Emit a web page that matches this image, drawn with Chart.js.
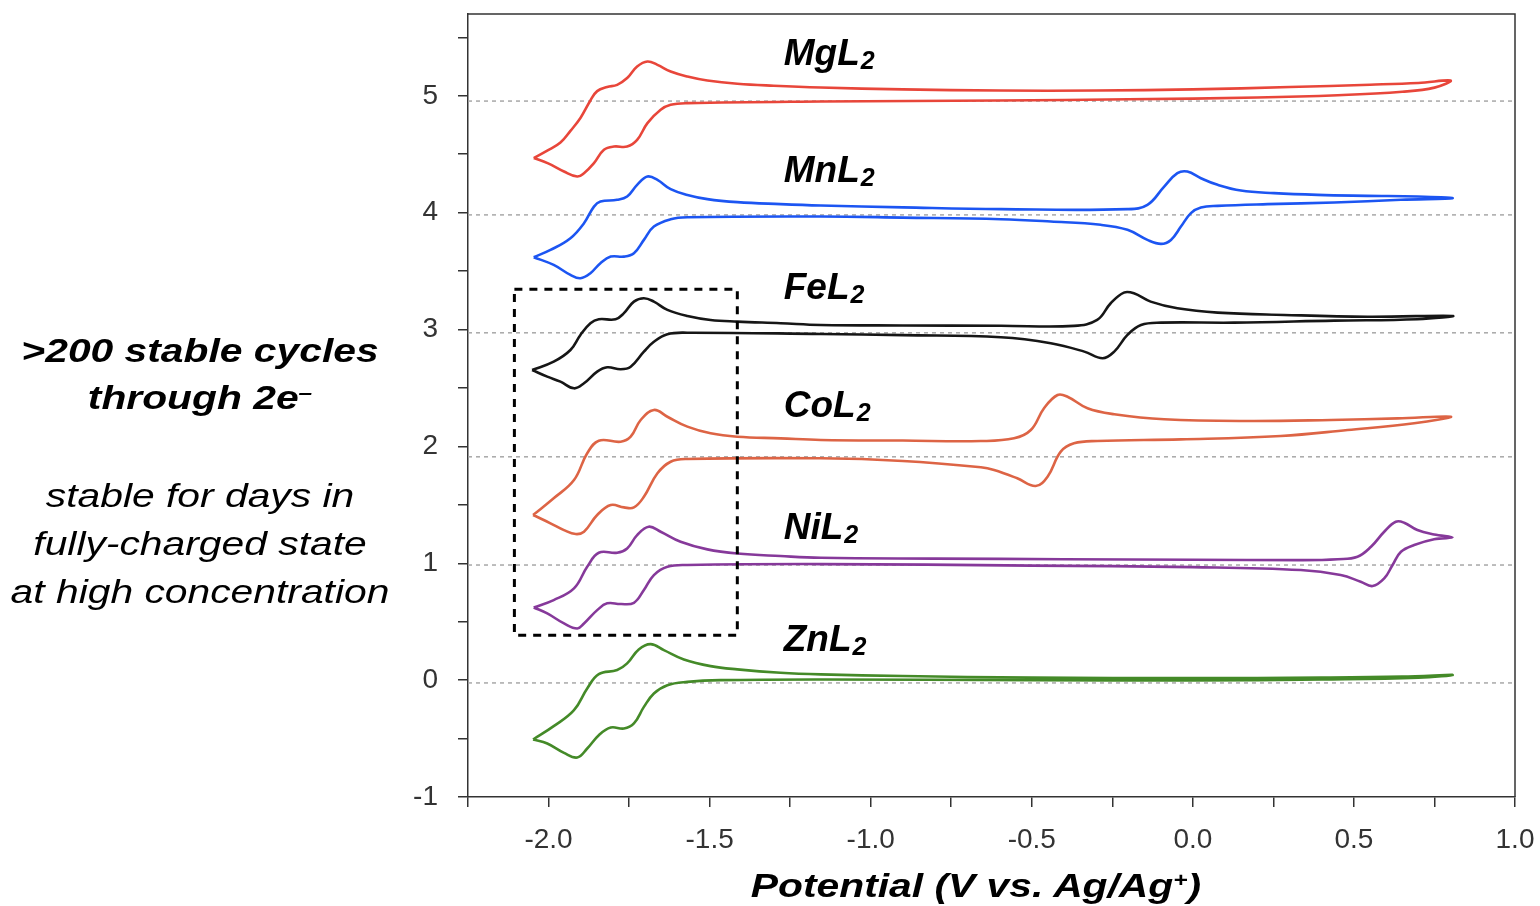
<!DOCTYPE html>
<html>
<head>
<meta charset="utf-8">
<script src="https://cdn.jsdelivr.net/npm/chart.js@4.4.0/dist/chart.umd.min.js"></script>
<style>
  html, body { margin: 0; padding: 0; background: #fff; }
  #wrap { position: relative; width: 1540px; height: 906px; overflow: hidden; }
  #cv { position: absolute; left: 0; top: 0; }
  .note {
    position: absolute; white-space: nowrap; color: #000;
    font-family: "Liberation Sans", Arial, sans-serif; font-style: italic;
    font-size: 34px; line-height: 34px;
    transform: translateX(-50%) scaleX(1.2);
  }
  .note.bold { font-weight: bold; }
  .note sup { font-size: 0.6em; vertical-align: 0.5em; line-height: 0; }
</style>
</head>
<body>
<div id="wrap">
  <canvas id="cv" width="1540" height="906"></canvas>
  <div class="note bold" style="left:200px; top:333px;">&gt;200 stable cycles</div>
  <div class="note bold" style="left:200px; top:380px;">through 2e<sup>–</sup></div>
  <div class="note" style="left:200px; top:478px;">stable for days in</div>
  <div class="note" style="left:200px; top:526px;">fully-charged state</div>
  <div class="note" style="left:200px; top:574px;">at high concentration</div>
  <div class="note bold" style="left:976px; top:868px;">Potential (V vs. Ag/Ag<sup>+</sup>)</div>
</div>
<script>
// axis limits (V, current offset units)
const potentialRange = [-2.25, 1.0];
const currentRange = [-1, 5.7];

const complexes = ['MgL', 'MnL', 'FeL', 'CoL', 'NiL', 'ZnL'];
const curveColors = ['#e8463a', '#1c55f2', '#161616', '#dd6445', '#86399a', '#448a28'];
// label baselines
const labelLevels = [5.265, 4.264, 3.262, 2.252, 1.207, 0.248];
const labelPotential = -1.27;
// dotted zero lines of each offset trace
const baselineLevels = [4.955, 3.981, 2.972, 1.911, 0.985, -0.024];

// CV loops: [potential, current]
const mgL2 = [[-2.046,4.467],[-2.004,4.53],[-1.963,4.60],[-1.932,4.70],[-1.901,4.81],[-1.870,4.96],[-1.849,5.04],[-1.818,5.075],[-1.787,5.094],[-1.756,5.152],[-1.725,5.251],[-1.693,5.294],[-1.662,5.265],[-1.621,5.208],[-1.569,5.165],[-1.507,5.131],[-1.414,5.103],[-1.301,5.086],[-1.155,5.071],[-0.9,5.055],[-0.6,5.045],[-0.3,5.045],[0.0,5.055],[0.3,5.075],[0.55,5.095],[0.7,5.11],[0.80,5.13],
  [0.75,5.07],[0.65,5.035],[0.45,5.005],[0.2,4.985],[-0.2,4.97],[-0.6,4.96],[-1.155,4.951],[-1.569,4.937],[-1.621,4.923],[-1.652,4.880],[-1.693,4.766],[-1.725,4.623],[-1.756,4.566],[-1.797,4.566],[-1.828,4.538],[-1.859,4.424],[-1.890,4.338],[-1.911,4.309],[-1.952,4.352],[-2.003,4.424],[-2.046,4.467]];
const mnL2 = [[-2.046,3.619],[-1.994,3.681],[-1.932,3.782],[-1.890,3.910],[-1.859,4.052],[-1.839,4.095],[-1.787,4.110],[-1.756,4.138],[-1.725,4.238],[-1.693,4.309],[-1.662,4.281],[-1.621,4.201],[-1.569,4.152],[-1.507,4.116],[-1.414,4.090],[-1.280,4.073],[-1.155,4.061],[-0.9,4.045],[-0.596,4.030],[-0.203,4.030],[-0.141,4.067],[-0.089,4.223],[-0.048,4.338],[-0.017,4.352],[0.025,4.295],[0.077,4.238],[0.149,4.189],[0.252,4.167],[0.387,4.152],[0.542,4.144],[0.697,4.138],[0.806,4.124],
  [0.646,4.110],[0.439,4.087],[0.232,4.073],[0.077,4.058],[0.025,4.044],[-0.006,3.996],[-0.037,3.881],[-0.068,3.767],[-0.099,3.733],[-0.141,3.767],[-0.203,3.853],[-0.286,3.896],[-0.441,3.924],[-0.596,3.944],[-0.9,3.958],[-1.155,3.967],[-1.569,3.961],[-1.621,3.944],[-1.673,3.881],[-1.704,3.767],[-1.735,3.653],[-1.766,3.624],[-1.807,3.624],[-1.839,3.568],[-1.870,3.482],[-1.901,3.439],[-1.932,3.467],[-1.984,3.553],[-2.046,3.619]];
const feL2 = [[-2.051,2.654],[-1.984,2.725],[-1.932,2.825],[-1.901,2.954],[-1.870,3.054],[-1.844,3.088],[-1.792,3.088],[-1.766,3.140],[-1.735,3.239],[-1.704,3.268],[-1.673,3.239],[-1.631,3.168],[-1.569,3.116],[-1.497,3.082],[-1.414,3.068],[-1.280,3.054],[-1.155,3.039],[-0.9,3.035],[-0.596,3.033],[-0.369,3.031],[-0.297,3.082],[-0.255,3.225],[-0.214,3.316],[-0.183,3.310],[-0.131,3.239],[-0.048,3.182],[0.077,3.145],[0.284,3.125],[0.542,3.110],[0.806,3.116],
  [0.697,3.088],[0.439,3.076],[0.128,3.059],[-0.099,3.059],[-0.161,3.039],[-0.203,2.954],[-0.244,2.811],[-0.280,2.754],[-0.337,2.811],[-0.441,2.883],[-0.596,2.934],[-0.9,2.952],[-1.155,2.962],[-1.569,2.973],[-1.631,2.960],[-1.673,2.896],[-1.704,2.811],[-1.745,2.682],[-1.776,2.660],[-1.818,2.677],[-1.849,2.640],[-1.890,2.540],[-1.921,2.497],[-1.963,2.554],[-2.004,2.597],[-2.051,2.654]];
const coL2 = [[-2.048,1.413],[-1.984,1.556],[-1.921,1.712],[-1.880,1.941],[-1.844,2.049],[-1.776,2.040],[-1.745,2.083],[-1.714,2.226],[-1.673,2.312],[-1.631,2.254],[-1.569,2.169],[-1.497,2.112],[-1.414,2.083],[-1.280,2.069],[-1.155,2.055],[-0.9,2.05],[-0.658,2.046],[-0.555,2.069],[-0.503,2.140],[-0.462,2.326],[-0.420,2.440],[-0.389,2.425],[-0.327,2.326],[-0.244,2.275],[-0.089,2.232],[0.170,2.217],[0.429,2.226],[0.636,2.240],[0.801,2.254],
  [0.687,2.198],[0.480,2.140],[0.273,2.089],[-0.037,2.060],[-0.297,2.046],[-0.369,2.026],[-0.410,1.955],[-0.451,1.741],[-0.488,1.661],[-0.545,1.727],[-0.617,1.798],[-0.658,1.821],[-0.9,1.875],[-1.155,1.898],[-1.569,1.892],[-1.621,1.869],[-1.662,1.770],[-1.704,1.569],[-1.735,1.478],[-1.766,1.478],[-1.807,1.498],[-1.849,1.413],[-1.890,1.270],[-1.916,1.250],[-1.952,1.284],[-1.994,1.342],[-2.048,1.413]];
const niL2 = [[-2.046,0.622],[-1.984,0.685],[-1.921,0.785],[-1.880,0.970],[-1.844,1.090],[-1.787,1.090],[-1.756,1.127],[-1.725,1.241],[-1.689,1.313],[-1.652,1.270],[-1.590,1.184],[-1.507,1.119],[-1.414,1.084],[-1.280,1.062],[-1.155,1.047],[-0.8,1.04],[-0.4,1.035],[0.0,1.03],[0.335,1.027],[0.45,1.035],[0.511,1.056],[0.553,1.141],[0.594,1.270],[0.630,1.355],[0.656,1.347],[0.697,1.284],[0.749,1.247],[0.806,1.222],
  [0.749,1.205],[0.687,1.156],[0.646,1.098],[0.620,0.985],[0.594,0.870],[0.558,0.805],[0.521,0.842],[0.459,0.899],[0.335,0.942],[0.0,0.967],[-0.5,0.98],[-1.155,0.993],[-1.569,0.985],[-1.631,0.970],[-1.673,0.899],[-1.704,0.771],[-1.735,0.662],[-1.776,0.651],[-1.818,0.657],[-1.849,0.599],[-1.890,0.485],[-1.911,0.442],[-1.952,0.485],[-2.004,0.571],[-2.046,0.622]];
const znL2 = [[-2.048,-0.508],[-1.984,-0.394],[-1.921,-0.257],[-1.880,-0.071],[-1.844,0.051],[-1.787,0.086],[-1.756,0.143],[-1.720,0.263],[-1.683,0.308],[-1.642,0.257],[-1.580,0.177],[-1.497,0.120],[-1.414,0.092],[-1.280,0.063],[-1.155,0.049],[-0.9,0.035],[-0.5,0.022],[0.0,0.018],[0.4,0.022],[0.65,0.03],[0.806,0.045],
  [0.7,0.02],[0.4,0.005],[0.0,-0.003],[-0.5,0.0],[-1.155,0.006],[-1.466,0.0],[-1.569,-0.015],[-1.631,-0.043],[-1.673,-0.114],[-1.704,-0.229],[-1.735,-0.371],[-1.766,-0.414],[-1.807,-0.405],[-1.844,-0.471],[-1.880,-0.585],[-1.911,-0.662],[-1.952,-0.622],[-2.004,-0.542],[-2.048,-0.508]];
const loops = [mgL2, mnL2, feL2, coL2, niL2, znL2];

// dashed box round the 2e- waves
const boxPotential = [-2.106, -1.414];
const boxCurrent = [0.385, 3.345];

const toXY = arr => arr.map(p => ({ x: p[0], y: p[1] }));

const datasets = [];
loops.forEach((loop, i) => {
  datasets.push({
    label: complexes[i] + '2',
    data: toXY(loop),
    showLine: true,
    borderColor: curveColors[i],
    borderWidth: 2.6,
    pointRadius: 0,
    tension: 0.4,
    fill: false,
    order: 1
  });
});
baselineLevels.forEach(lv => {
  datasets.push({
    label: 'base',
    data: [{ x: potentialRange[0], y: lv }, { x: potentialRange[1], y: lv }],
    showLine: true,
    borderColor: '#a8a8a8',
    borderWidth: 1.5,
    borderDash: [4, 4],
    pointRadius: 0,
    order: 5
  });
});
datasets.push({
  label: 'box',
  data: [
    { x: boxPotential[0], y: boxCurrent[1] }, { x: boxPotential[1], y: boxCurrent[1] },
    { x: boxPotential[1], y: boxCurrent[0] }, { x: boxPotential[0], y: boxCurrent[0] },
    { x: boxPotential[0], y: boxCurrent[1] }
  ],
  showLine: true,
  borderColor: '#000',
  borderWidth: 3,
  borderDash: [8, 7],
  pointRadius: 0,
  tension: 0,
  order: 0
});

// frame on top/right + compound labels
const framePlugin = {
  id: 'frame',
  afterDraw(chart) {
    const { ctx, chartArea: a, scales } = chart;
    ctx.save();
    ctx.strokeStyle = '#333';
    ctx.lineWidth = 1.5;
    ctx.beginPath();
    ctx.moveTo(a.left, a.top);
    ctx.lineTo(a.right, a.top);
    ctx.lineTo(a.right, a.bottom);
    ctx.stroke();

    ctx.fillStyle = '#000';
    ctx.textBaseline = 'alphabetic';
    complexes.forEach((name, i) => {
      const x = scales.x.getPixelForValue(labelPotential);
      const y = scales.y.getPixelForValue(labelLevels[i]);
      ctx.font = 'italic bold 37px "Liberation Sans", Arial, sans-serif';
      ctx.fillText(name, x, y);
      const w = ctx.measureText(name).width;
      ctx.font = 'italic bold 25px "Liberation Sans", Arial, sans-serif';
      ctx.fillText('2', x + w + 1, y + 4);
    });
    ctx.restore();
  }
};

const isHalf = v => Math.abs(v * 2 - Math.round(v * 2)) < 1e-6;
const isWhole = v => Math.abs(v - Math.round(v)) < 1e-6;

new Chart(document.getElementById('cv').getContext('2d'), {
  type: 'scatter',
  data: { datasets },
  plugins: [framePlugin],
  options: {
    responsive: false,
    animation: false,
    layout: { padding: { top: 14, right: 25, left: 0, bottom: 0 } },
    plugins: { legend: { display: false }, tooltip: { enabled: false } },
    scales: {
      x: {
        type: 'linear',
        min: potentialRange[0],
        max: potentialRange[1],
        afterFit: s => { s.height = 109; s.paddingLeft = 0; s.paddingRight = 0; },
        border: { display: true, color: '#333', width: 1.5 },
        grid: { drawOnChartArea: false, drawTicks: true, tickLength: 10, color: '#333', lineWidth: 1.5 },
        ticks: {
          stepSize: 0.25,
          includeBounds: false,
          autoSkip: false,
          maxRotation: 0,
          padding: 16,
          color: '#333',
          font: { family: '"Liberation Sans", Arial, sans-serif', size: 28 },
          callback: v => isHalf(v) ? v.toFixed(1) : ''
        }
      },
      y: {
        type: 'linear',
        min: currentRange[0],
        max: currentRange[1],
        afterFit: s => { s.width = 468; s.paddingTop = 0; s.paddingBottom = 0; },
        border: { display: true, color: '#333', width: 1.5 },
        grid: { drawOnChartArea: false, drawTicks: true, tickLength: 10, color: '#333', lineWidth: 1.5 },
        ticks: {
          stepSize: 0.5,
          includeBounds: false,
          autoSkip: false,
          padding: 20,
          color: '#333',
          font: { family: '"Liberation Sans", Arial, sans-serif', size: 28 },
          callback: v => isWhole(v) ? String(Math.round(v)) : ''
        }
      }
    }
  }
});
</script>
</body>
</html>
